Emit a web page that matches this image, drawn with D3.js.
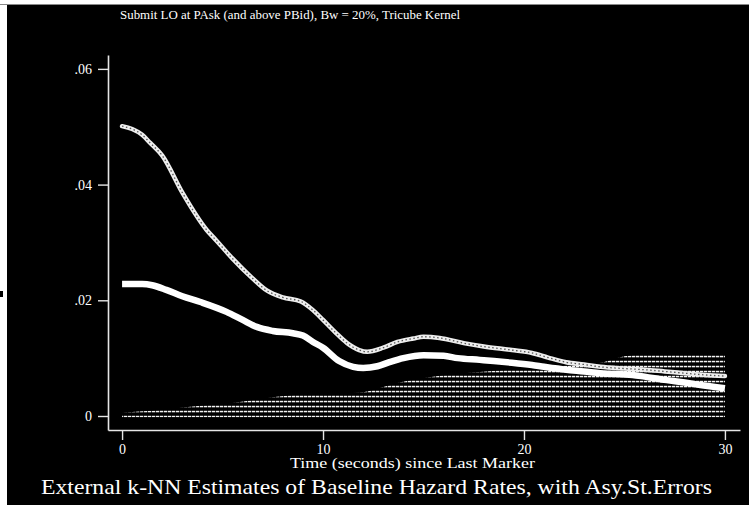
<!DOCTYPE html>
<html>
<head>
<meta charset="utf-8">
<script src="https://cdn.jsdelivr.net/npm/d3@7"></script>
<style>
  html, body { margin: 0; padding: 0; background: #fff; }
  svg { display: block; }
</style>
</head>
<body>
<svg id="chart" width="749" height="510"></svg>
<script>
// ---- Data ----
const subtitle = "Submit LO at PAsk (and above PBid), Bw = 20%, Tricube Kernel";
const title = "External k-NN Estimates of Baseline Hazard Rates, with Asy.St.Errors";
const xTitle = "Time (seconds) since Last Marker";

const xTickValues = [0, 10, 20, 30];
const xTickLabels = ["0", "10", "20", "30"];
const yTickValues = [0, 0.02, 0.04, 0.06];
const yTickLabels = ["0", ".02", ".04", ".06"];

// Point estimate (thick line)
const estTime = [0, 1, 1.5, 2.2, 3, 3.9, 5.2, 6, 6.7, 7.5, 8.5, 9, 9.5, 10, 10.8, 11.5, 12, 12.7, 13.3, 14, 15, 16, 16.7, 17.8, 18.5, 19.4, 20.4, 21, 22.1, 23, 23.8, 25.4, 26, 27.1, 28, 28.7, 30];
const estValue = [0.0228, 0.0228, 0.0226, 0.0218, 0.0207, 0.0197, 0.0180, 0.0166, 0.0154, 0.0147, 0.0143, 0.0139, 0.0128, 0.0118, 0.0095, 0.0085, 0.0083, 0.0086, 0.0093, 0.0100, 0.0105, 0.0104, 0.0100, 0.0097, 0.0095, 0.0092, 0.0088, 0.0085, 0.0080, 0.0077, 0.0074, 0.0071, 0.0068, 0.0062, 0.0058, 0.0054, 0.0048];

// Upper band (thin textured line)
const upperTime = [0, 0.5, 1, 1.4, 2, 3, 4.2, 4.7, 5.5, 6.4, 7.2, 8, 8.9, 9.5, 10, 10.6, 11.2, 11.8, 12.2, 13, 13.7, 14.5, 15, 15.8, 17, 18, 19.4, 20.4, 21.2, 22.1, 23, 23.8, 25, 26, 27, 28, 29, 30];
const upperValue = [0.0501, 0.0496, 0.0486, 0.0472, 0.0450, 0.0386, 0.0322, 0.0303, 0.0272, 0.0241, 0.0217, 0.0205, 0.0198, 0.0183, 0.0166, 0.0145, 0.0126, 0.0114, 0.0111, 0.0118, 0.0128, 0.0134, 0.0137, 0.0135, 0.0126, 0.0120, 0.0114, 0.0109, 0.0101, 0.0093, 0.0089, 0.0085, 0.0082, 0.0080, 0.0077, 0.0074, 0.0071, 0.0069];

// Lower band region (hatched with horizontal dotted lines)
const bandTime = [0, 1, 2, 3.4, 5.4, 7, 8.4, 10, 11, 12, 13, 13.7, 15.3, 16.5, 17.8, 19.4, 21, 22.5, 23.8, 24.6, 25.4, 27, 30];
const bandValue = [0.0005, 0.0008, 0.0011, 0.0016, 0.0022, 0.0030, 0.0036, 0.0038, 0.0039, 0.0041, 0.0050, 0.0057, 0.0067, 0.0072, 0.0076, 0.0080, 0.0084, 0.0088, 0.0092, 0.0100, 0.0105, 0.0107, 0.0109];

// ---- Drawing ----
const svg = d3.select("#chart");
const font = "'Liberation Serif', 'DejaVu Serif', serif";

// scanned page: white margins, black frame
svg.append("rect").attr("x", 0).attr("y", 0).attr("width", 749).attr("height", 510).attr("fill", "#fff");
svg.append("rect").attr("x", 7).attr("y", 5).attr("width", 742).attr("height", 500).attr("fill", "#000");
svg.append("rect").attr("x", 0).attr("y", 4).attr("width", 749).attr("height", 1).attr("fill", "#888");
svg.append("rect").attr("x", 0).attr("y", 291).attr("width", 3).attr("height", 6).attr("fill", "#000");

const x = d3.scaleLinear().domain([-0.7, 30.75]).range([108, 740]);
const y = d3.scaleLinear().domain([-0.00242, 0.0624]).range([430, 55]);

// hatch pattern
const defs = svg.append("defs");
const pat = defs.append("pattern")
  .attr("id", "hatch").attr("patternUnits", "userSpaceOnUse")
  .attr("width", 4).attr("height", 5);
pat.append("rect").attr("x", 0).attr("y", 0.8).attr("width", 3.3).attr("height", 1.5).attr("fill", "#f4f4f4");

const band = bandTime.map((t, i) => ({ t, v: bandValue[i] }));
svg.append("path")
  .datum(band)
  .attr("fill", "url(#hatch)")
  .attr("d", d3.area().x(d => x(d.t)).y0(y(-0.0002)).y1(d => y(d.v)).curve(d3.curveMonotoneX));

// upper band line (textured)
const upper = upperTime.map((t, i) => ({ t, v: upperValue[i] }));
const lineGen = d3.line().x(d => x(d.t)).y(d => y(d.v)).curve(d3.curveMonotoneX);
svg.append("path").datum(upper)
  .attr("fill", "none").attr("stroke", "#eee").attr("stroke-width", 4.5)
  .attr("stroke-linecap", "round")
  .attr("d", lineGen);
svg.append("path").datum(upper)
  .attr("fill", "none").attr("stroke", "#555").attr("stroke-width", 1.3)
  .attr("stroke-dasharray", "1.5,2.5")
  .attr("d", lineGen);

// estimate (thick)
const est = estTime.map((t, i) => ({ t, v: estValue[i] }));
svg.append("path").datum(est)
  .attr("fill", "none").attr("stroke", "#fff").attr("stroke-width", 6.5)
  .attr("d", lineGen);

// axes
const xAxis = d3.axisBottom(x)
  .tickValues(xTickValues)
  .tickFormat((d, i) => xTickLabels[i])
  .tickSizeInner(10).tickSizeOuter(0).tickPadding(4);
const gx = svg.append("g").attr("transform", `translate(0,${y(-0.00242)})`).call(xAxis);

const yAxis = d3.axisLeft(y)
  .tickValues(yTickValues)
  .tickFormat((d, i) => yTickLabels[i])
  .tickSizeInner(10).tickSizeOuter(0).tickPadding(6);
const gy = svg.append("g").attr("transform", `translate(${x(-0.7)},0)`).call(yAxis);

[gx, gy].forEach(g => {
  g.select(".domain").attr("stroke", "#e6e6e6").attr("stroke-width", 1.6);
  g.selectAll(".tick line").attr("stroke", "#e6e6e6").attr("stroke-width", 1.4);
  g.selectAll(".tick text").attr("fill", "#fff").attr("font-family", font).attr("font-size", 14);
});

// texts
svg.append("text").attr("x", 120).attr("y", 19)
  .attr("fill", "#fff").attr("font-family", font).attr("font-size", 13)
  .attr("textLength", 340).attr("lengthAdjust", "spacingAndGlyphs")
  .text(subtitle);
svg.append("text").attr("x", 290).attr("y", 468)
  .attr("fill", "#fff").attr("font-family", font).attr("font-size", 14)
  .attr("textLength", 245).attr("lengthAdjust", "spacingAndGlyphs")
  .text(xTitle);
svg.append("text").attr("x", 41).attr("y", 494)
  .attr("fill", "#fff").attr("font-family", font).attr("font-size", 22)
  .attr("textLength", 671).attr("lengthAdjust", "spacingAndGlyphs")
  .text(title);
</script>
</body>
</html>
